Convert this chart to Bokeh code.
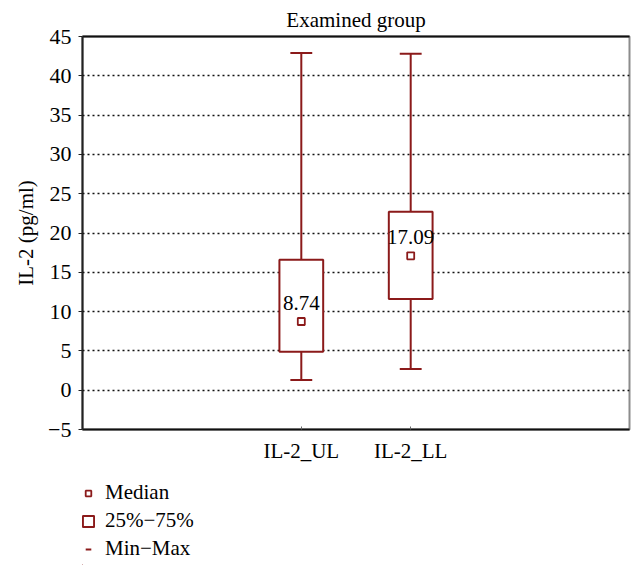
import numpy as np
from bokeh.plotting import figure
from bokeh.layouts import column
from bokeh.models import (ColumnDataSource, FixedTicker, LinearAxis, Legend,
                          LegendItem, Range1d)
from bokeh.core.properties import value
from bokeh.embed import file_html
from bokeh.resources import INLINE

# ---- data ----
categories = ["IL-2_UL", "IL-2_LL"]
minimum = [1.3, 2.7]
q1 = [4.9, 11.6]
median = [8.74, 17.09]
q3 = [16.6, 22.7]
maximum = [42.9, 42.8]
y_ticks = [-5, 0, 5, 10, 15, 20, 25, 30, 35, 40, 45]
legend_labels = ["Median", "25%\u221275%", "Min\u2212Max"]
title_text = "Examined group"
y_label = "IL-2 (pg/ml)"

FONT = "Liberation Serif"
RED = "#8b1a1a"
BOX_W = 0.4
CAP_W = 0.2

xs = np.arange(1, len(categories) + 1)
src = ColumnDataSource(dict(
    x=xs, lo=minimum, q1=q1, med=median, q3=q3, hi=maximum,
    cl=xs - CAP_W / 2, cr=xs + CAP_W / 2,
    lab=[f"{m:.2f}" for m in median],
))

p = figure(width=640, height=470, output_backend="svg", toolbar_location=None,
           x_range=Range1d(-1, 4), y_range=Range1d(y_ticks[0], y_ticks[-1]),
           min_border_left=82, min_border_right=11, min_border_top=36,
           min_border_bottom=41)
p.background_fill_color = "white"
p.border_fill_color = "white"
p.outline_line_color = "#8c8c8c"
p.outline_line_width = 2

p.title.text = title_text
p.title.align = "center"
p.title.text_font = FONT
p.title.text_font_size = "21px"
p.title.text_font_style = "normal"
p.title.text_color = "black"
p.title.standoff = 9

# grid
p.xgrid.visible = False
p.ygrid.ticker = FixedTicker(ticks=y_ticks)
p.ygrid.grid_line_color = "#111111"
p.ygrid.grid_line_dash = "2 3"
p.ygrid.grid_line_width = 1.6

# y axis
ya = p.yaxis[0]
ya.ticker = FixedTicker(ticks=y_ticks)
ya.major_label_overrides = {t: (f"\u2212{abs(t)}" if t < 0 else str(t)) for t in y_ticks}
ya.axis_label = y_label
ya.axis_label_text_font = FONT
ya.axis_label_text_font_size = "21px"
ya.axis_label_text_font_style = "normal"
ya.axis_label_text_color = "black"
ya.axis_label_standoff = 7
ya.major_label_text_font = FONT
ya.major_label_text_font_size = "22px"
ya.major_label_text_color = "black"
ya.major_label_standoff = 7
ya.major_tick_out = 4
ya.major_tick_in = 0
ya.minor_tick_out = 0
ya.minor_tick_in = 0
ya.axis_line_width = 2
ya.axis_line_color = "#222222"
ya.major_tick_line_color = "#222222"

# x axis
xa = p.xaxis[0]
xa.ticker = FixedTicker(ticks=list(xs))
xa.major_label_overrides = {int(x): c for x, c in zip(xs, categories)}
xa.major_label_text_font = FONT
xa.major_label_text_font_size = "21px"
xa.major_label_text_color = "black"
xa.major_label_standoff = 9
xa.major_tick_in = 3
xa.major_tick_out = 0
xa.minor_tick_in = 0
xa.minor_tick_out = 0
xa.major_tick_line_color = "#666666"
xa.axis_line_width = 2
xa.axis_line_color = "#111111"

# top frame line
top = LinearAxis(ticker=FixedTicker(ticks=[]), major_tick_out=0, major_tick_in=0,
                 minor_tick_out=0, minor_tick_in=0, axis_line_width=2,
                 axis_line_color="#111111", major_label_text_font_size="0px")
p.add_layout(top, "above")


def draw(fig):
    fig.segment(x0="x", y0="lo", x1="x", y1="hi", source=src,
                line_color=RED, line_width=2)
    fig.segment(x0="cl", y0="hi", x1="cr", y1="hi", source=src,
                line_color=RED, line_width=2)
    fig.segment(x0="cl", y0="lo", x1="cr", y1="lo", source=src,
                line_color=RED, line_width=2)
    caps = fig.scatter(x="x", y="hi", source=src, marker="dash", size=0,
                       line_color=RED, line_width=2)
    boxes = fig.vbar(x="x", width=BOX_W, bottom="q1", top="q3", source=src,
                     fill_color="white", line_color=RED, line_width=2)
    meds = fig.scatter(x="x", y="med", source=src, marker="square", size=7,
                       fill_color="white", line_color=RED, line_width=1.8)
    return meds, boxes, caps


draw(p)
p.text(x="x", y="med", text="lab", source=src, text_align="center",
       text_baseline="middle", y_offset=-19, text_font=value(FONT),
       text_font_size="21px", text_color="black")

# legend strip below the chart (its renderers lie outside its view)
lg = figure(width=640, height=95, output_backend="svg", toolbar_location=None,
            x_range=Range1d(100, 101), y_range=Range1d(100, 101),
            x_axis_type=None, y_axis_type=None,
            min_border_left=0, min_border_right=0, min_border_top=0,
            min_border_bottom=0)
lg.outline_line_color = None
lg.xgrid.visible = False
lg.ygrid.visible = False
meds2, boxes2, caps2 = draw(lg)

legend = Legend(items=[
    LegendItem(label=legend_labels[0], renderers=[meds2]),
    LegendItem(label=legend_labels[1], renderers=[boxes2]),
    LegendItem(label=legend_labels[2], renderers=[caps2]),
], location=(-1, 4))
legend.padding = 0
legend.margin = 0
legend.border_line_color = None
legend.background_fill_alpha = 0
legend.glyph_width = 14
legend.glyph_height = 14
legend.label_height = 20
legend.spacing = 3
legend.label_standoff = 10
legend.label_text_font = FONT
legend.label_text_font_size = "21px"
legend.label_text_color = "black"
legend.label_text_baseline = "middle"
lg.add_layout(legend)

layout = column(p, lg, spacing=0)
open("out.html", "w").write(file_html(layout, INLINE))
